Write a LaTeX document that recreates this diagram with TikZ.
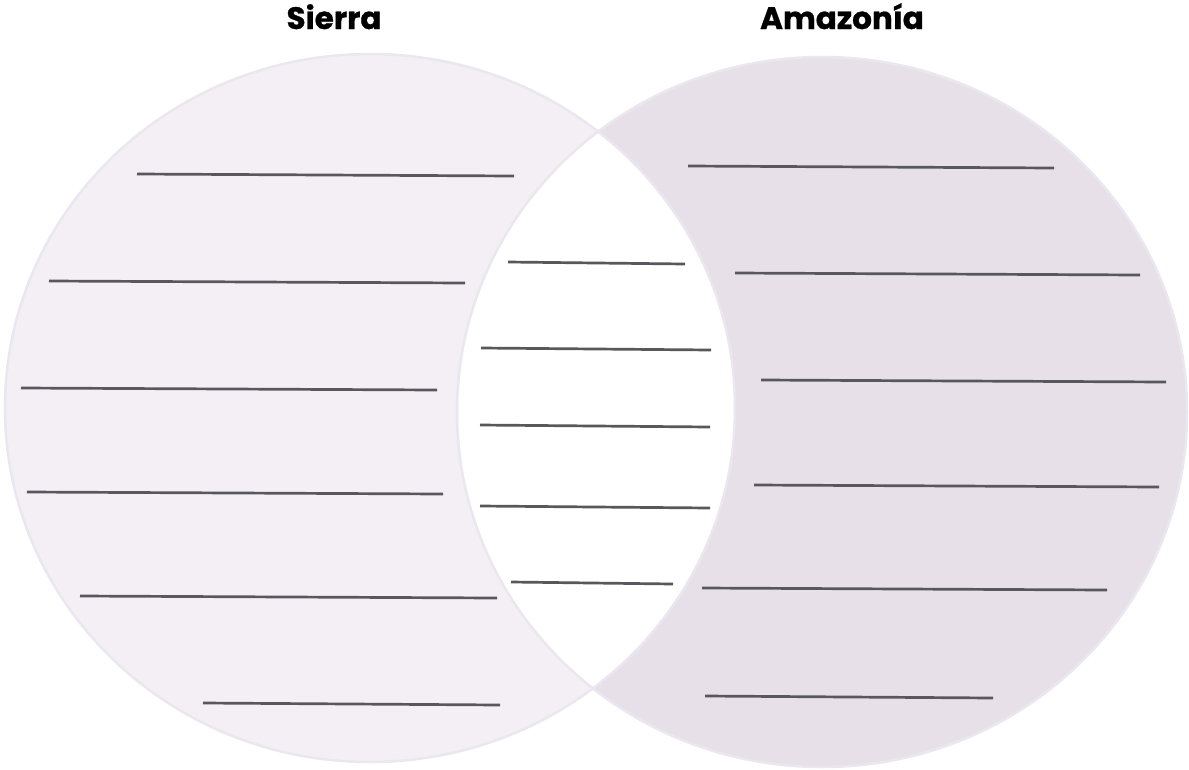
\documentclass[tikz,border=0pt]{standalone}
\usepackage{fontspec}
\setmainfont{Poppins}
\newfontfamily\titlefont{Poppins}[UprightFont=*-Bold, FakeBold=0.8]
\definecolor{leftfill}{HTML}{F3EFF5}
\definecolor{rightfill}{HTML}{E7E0E9}
\definecolor{rim}{HTML}{EAE7EE}
\definecolor{rule}{HTML}{57575C}
\begin{document}
\begin{tikzpicture}[x=1pt,y=-1pt,
  title/.style={font=\titlefont\fontsize{31}{36}\selectfont, text=black, inner sep=0pt, anchor=base},
  writeline/.style={draw=rule, line width=2.7pt},
  rimline/.style={draw=rim, line width=2.5pt}]
\useasboundingbox (0,0) rectangle (1189,769);
\fill[white] (0,0) rectangle (1189,769);
% circles
\fill[leftfill] (370,408) ellipse [x radius=365, y radius=354];
\fill[rightfill] (822,412) ellipse [x radius=365, y radius=355];
\begin{scope}
  \clip (370,408) ellipse [x radius=365, y radius=354];
  \fill[white] (822,412) ellipse [x radius=365, y radius=355];
\end{scope}
\draw[rimline] (370,408) ellipse [x radius=365, y radius=354];
\draw[rimline] (822,412) ellipse [x radius=365, y radius=355];
% titles
\node[title] (sierra) at (334,29) {Sierra};
\node[title] (amazonia) at (842,29) {Amazonía};
% left lines
\draw[writeline] (137,174) -- (514,176);
\draw[writeline] (49,281) -- (465,283);
\draw[writeline] (21,388) -- (437,390);
\draw[writeline] (27,492) -- (443,494);
\draw[writeline] (80,596) -- (497,598);
\draw[writeline] (203,703) -- (500,705);
% middle lines
\draw[writeline] (508,262) -- (685,264);
\draw[writeline] (481,348) -- (711,350);
\draw[writeline] (480,425) -- (710,427);
\draw[writeline] (480,506) -- (710,508);
\draw[writeline] (511,582) -- (673,584);
% right lines
\draw[writeline] (688,166) -- (1054,168);
\draw[writeline] (735,273) -- (1140,275);
\draw[writeline] (761,380) -- (1166,382);
\draw[writeline] (754,485) -- (1159,487);
\draw[writeline] (702,588) -- (1107,590);
\draw[writeline] (705,696) -- (993,698);
\end{tikzpicture}
\end{document}
